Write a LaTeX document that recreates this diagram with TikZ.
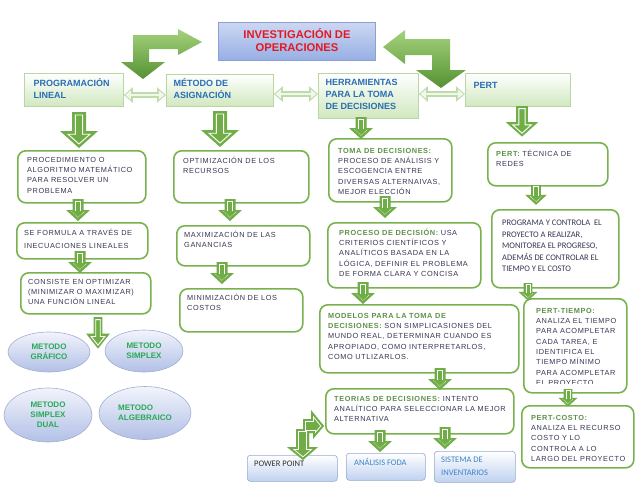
\documentclass[tikz,border=0pt]{standalone}
\usepackage{fontspec}
\setmainfont{Liberation Sans}
\newfontfamily\lsans[LetterSpace=8]{Liberation Sans}
\newfontfamily\carl{Carlito}
\usetikzlibrary{arrows.meta,shapes.geometric}

\definecolor{agreen}{RGB}{112,173,71}
\definecolor{bgreen}{RGB}{120,178,78}
\definecolor{hdrblue}{RGB}{40,110,180}
\definecolor{ttlred}{RGB}{225,25,35}
\definecolor{bodyc}{RGB}{55,55,85}
\definecolor{tgreen}{RGB}{95,145,75}
\definecolor{elltxt}{RGB}{40,170,85}
\definecolor{lblue}{RGB}{60,130,200}
\definecolor{hborder}{RGB}{185,215,165}
\definecolor{hfill}{RGB}{208,232,190}
\definecolor{tborder}{RGB}{140,160,210}
\definecolor{ttop}{RGB}{205,215,243}
\definecolor{tbot}{RGB}{150,175,228}
\definecolor{ellb}{RGB}{160,175,210}
\definecolor{ell1}{RGB}{242,244,252}
\definecolor{ell2}{RGB}{178,192,230}
\definecolor{bbord}{RGB}{150,170,205}
\definecolor{bfill}{RGB}{192,210,240}
\definecolor{bent1}{RGB}{165,210,125}
\definecolor{bent2}{RGB}{85,145,50}
\definecolor{dblo}{RGB}{190,220,170}
\definecolor{dbli}{RGB}{240,248,235}
\definecolor{ppgray}{RGB}{50,50,50}

\newcommand\bodyf{\lsans\fontsize{7.35}{10.3}\selectfont}
\newcommand\hdrf{\fontsize{9}{12.2}\selectfont\bfseries}
\newcommand\carlf{\carl\fontsize{8.5}{11.5}\selectfont}
\newcommand\carlb{\carl\fontsize{8.5}{13}\selectfont}
\newcommand\tg[1]{\textcolor{tgreen}{\bfseries #1}}

% #1 style, #2 name, #3 x1, #4 y1, #5 x2, #6 y2, #7 tx, #8 ty, #9 text
\newcommand\tbox[9]{%
  \pgfmathsetmacro\bw{#5-#3}\pgfmathsetmacro\bh{#6-#4}%
  \node[#1, anchor=north west, minimum width=\bw pt, minimum height=\bh pt, inner sep=0pt] (#2) at (#3,#4) {};
  \node[#1txt, anchor=north west, inner sep=0pt, align=left] (#2-t) at (#7,#8) {\strut#9};}

\newcommand\dblarrow[3]{%
  \draw[dbl] (#1.east |- 0,#3) -- (#2.west |- 0,#3);
  \draw[dblin] (#1.east |- 0,#3) -- (#2.west |- 0,#3);}

\tikzset{
  gbox/.style={draw=bgreen, line width=1.6pt, rounded corners=8pt, fill=white},
  gboxtxt/.style={font=\bodyf, text=bodyc},
  cbox/.style={gbox},
  cboxtxt/.style={font=\carlf, text=bodyc},
  hbox/.style={draw=hborder, line width=0.8pt, top color=white, bottom color=hfill},
  hboxtxt/.style={font=\hdrf, text=hdrblue},
  bbox/.style={draw=bbord, line width=0.6pt, rounded corners=3pt, top color=white, bottom color=bfill},
  bboxtxt/.style={font=\carlb, text=lblue},
  ell/.style={ellipse, draw=ellb, line width=0.6pt, top color=ell1, bottom color=ell2,
    font=\bfseries\fontsize{8}{10}\selectfont, text=elltxt, align=center, inner sep=0pt},
  dbl/.style={line width=6pt, draw=dblo,
    {Triangle[width=15pt,length=9pt]}-{Triangle[width=15pt,length=9pt]}},
  dblin/.style={line width=2.6pt, draw=dbli, shorten <=1.6pt, shorten >=1.6pt,
    {Triangle[width=9pt,length=5.5pt]}-{Triangle[width=9pt,length=5.5pt]}},
  bigdown/.pic={
    \fill[agreen] (-7,0) -- (7,0) -- (7,19) -- (19,19) -- (0,36) -- (-19,19) -- (-7,19) -- cycle;
    \draw[white, line width=0.9pt] (-3.6,3) -- (3.6,3) -- (3.6,22.2) -- (11,22.2) -- (0,32) -- (-11,22.2) -- (-3.6,22.2) -- cycle;
  },
  smalldown/.pic={
    \fill[agreen] (-5.5,0) -- (5.5,0) -- (5.5,11) -- (12,11) -- (0,22) -- (-12,11) -- (-5.5,11) -- cycle;
    \draw[white, line width=0.6pt] (-2.5,12) -- (-2.5,1.8) -- (2.5,1.8) -- (2.5,12);
    \draw[white, line width=0.6pt, densely dotted] (-6.5,12.5) -- (0,18.5) -- (6.5,12.5);
  },
}

\begin{document}
\begin{tikzpicture}[x=1pt,y=-1pt]
\useasboundingbox (0,0) rectangle (638,493);
\fill[white] (0,0) rectangle (638,493);

% title
\node[draw=tborder, line width=0.6pt, top color=ttop, bottom color=tbot, anchor=north west,
  minimum width=157pt, minimum height=38pt, inner sep=0pt] (io) at (218,22) {};
\node[font=\fontsize{11.2}{13.5}\selectfont\bfseries, text=ttlred, align=center, inner sep=0pt]
  (io-t) at (297,40) {INVESTIGACIÓN DE\\OPERACIONES};

% header row
\tbox{hbox}{pl}{24}{73}{123}{106}{33.5}{77.8}{PROGRAMACIÓN\\LINEAL}
\tbox{hbox}{ma}{166}{74}{273}{106}{173.5}{77.8}{MÉTODO DE\\ASIGNACIÓN}
\tbox{hbox}{he}{318}{73}{418}{118}{325.5}{76.8}{HERRAMIENTAS\\PARA LA TOMA\\DE DECISIONES}
\tbox{hbox}{pe}{465}{73}{570}{106}{473.5}{79.8}{PERT}

\dblarrow{pl}{ma}{95}
\dblarrow{ma}{he}{94}
\dblarrow{he}{pe}{94}

% left column
\tbox{gbox}{proc}{17}{150}{145}{202}{27}{154.8}{PROCEDIMIENTO O\\ALGORITMO MATEMÁTICO\\PARA RESOLVER UN\\PROBLEMA}
\tbox{gbox}{sef}{16}{222}{147}{258}{24}{227.8}{SE FORMULA A TRAVÉS DE\\[2.7pt]INECUACIONES LINEALES}
\tbox{gbox}{cons}{20}{272}{150}{313}{28}{276.8}{CONSISTE EN OPTIMIZAR\\(MINIMIZAR O MAXIMIZAR)\\UNA FUNCIÓN LINEAL}

% ellipses
\node[ell, minimum width=82pt, minimum height=40pt] (eg) at (49,352) {METODO\\GRÁFICO};
\node[ell, minimum width=78pt, minimum height=42pt] (es) at (144,351) {METODO\\SIMPLEX};
\node[ell, minimum width=88pt, minimum height=54pt] (ed) at (48,415) {METODO\\SIMPLEX\\DUAL};
\node[ell, minimum width=92pt, minimum height=53pt, align=left] (ea) at (145,413) {METODO\\ALGEBRAICO};

% middle column
\tbox{gbox}{opt}{173}{150}{308}{202}{183}{155.8}{OPTIMIZACIÓN DE LOS\\RECURSOS}
\tbox{gbox}{max}{176}{225}{309}{265}{184}{229.8}{MAXIMIZACIÓN DE LAS\\GANANCIAS}
\tbox{gbox}{min}{179}{288}{302}{331}{187}{292.8}{MINIMIZACIÓN DE LOS\\COSTOS}

% herramientas column
\tbox{gbox}{toma}{328}{138}{451}{201}{338}{145.8}{\tg{TOMA DE DECISIONES:}\\PROCESO DE ANÁLISIS Y\\ESCOGENCIA ENTRE\\DIVERSAS ALTERNAIVAS,\\MEJOR ELECCIÓN}
\tbox{gbox}{proce}{327}{222}{480}{287}{339}{227.8}{\tg{PROCESO DE DECISIÓN:} USA\\CRITERIOS CIENTÍFICOS Y\\ANALÍTICOS BASADA EN LA\\LÓGICA, DEFINIR EL PROBLEMA\\DE FORMA CLARA Y CONCISA}
\tbox{gbox}{mod}{319}{304}{518}{372}{328}{310.8}{\tg{MODELOS PARA LA TOMA DE}\\\tg{DECISIONES:} SON SIMPLICASIONES DEL\\MUNDO REAL, DETERMINAR CUANDO ES\\APROPIADO, COMO INTERPRETARLOS,\\COMO UTLIZARLOS.}
\tbox{gbox}{teo}{325}{388}{513}{433}{334}{393.8}{\tg{TEORIAS DE DECISIONES:} INTENTO\\ANALÍTICO PARA SELECCIONAR LA MEJOR\\ALTERNATIVA}

% bottom boxes
\tbox{bbox}{pp}{247}{455}{337}{481}{254}{457.5}{\textcolor{ppgray}{POWER POINT}}
\tbox{bbox}{foda}{346}{453}{425}{480}{354}{456.5}{ANÁLISIS FODA}
\tbox{bbox}{inv}{434}{451}{515}{482}{441}{453.5}{SISTEMA DE\\INVENTARIOS}

% PERT column
\tbox{gbox}{ptec}{487}{142}{607}{185}{496}{148.8}{\tg{PERT:} TÉCNICA DE\\REDES}
\tbox{cbox}{prog}{491}{209}{618}{287}{502}{217.4}{PROGRAMA Y CONTROLA~ EL\\PROYECTO A REALIZAR,\\MONITOREA EL PROGRESO,\\ADEMÁS DE CONTROLAR EL\\TIEMPO Y EL COSTO}
\node[gbox, anchor=north west, minimum width=103pt, minimum height=94pt, inner sep=0pt] (pt) at (523,298) {};
\begin{scope}
  \clip (523,298) rectangle (626,383.5);
  \node[gboxtxt, anchor=north west, inner sep=0pt, align=left] (pt-t) at (536,305.8)
    {\strut\tg{PERT-TIEMPO:}\\ANALIZA EL TIEMPO\\PARA ACOMPLETAR\\CADA TAREA, E\\IDENTIFICA EL\\TIEMPO MÍNIMO\\PARA ACOMPLETAR\\EL PROYECTO};
\end{scope}
\tbox{gbox}{pc}{521}{405}{633}{467}{531}{412.8}{\tg{PERT-COSTO:}\\ANALIZA EL RECURSO\\COSTO Y LO\\CONTROLA A LO\\LARGO DEL PROYECTO}

% bent arrows at the top
\shade[top color=bent1, bottom color=bent2]
  (133,35) -- (178,35) -- (178,29) -- (202,42) -- (178,55) -- (178,49) -- (149,49) -- (149,62)
  -- (165,62) -- (143,79) -- (121,62) -- (133,62) -- cycle;
\shade[top color=bent1, bottom color=bent2]
  (383,47) -- (405,30) -- (405,39) -- (450,39) -- (450,70) -- (466,70) -- (441,88) -- (416,70)
  -- (432,70) -- (432,55) -- (405,55) -- (405,64) -- cycle;

% big hollow arrows
\pic at (79,112) {bigdown};
\pic at (220,111) {bigdown};
\pic[scale=0.85] at (522,106) {bigdown};
\pic[xscale=0.62, yscale=0.88] at (98,317) {bigdown};

% small chain arrows
\pic at (78,199) {smalldown};
\pic at (80,251) {smalldown};
\pic at (230,199) {smalldown};
\pic at (222,262) {smalldown};
\pic at (361,117) {smalldown};
\pic at (385,196) {smalldown};
\pic at (363,282) {smalldown};
\pic at (440,368) {smalldown};
\pic at (380,430) {smalldown};
\pic at (445,427) {smalldown};
\pic[scale=0.9] at (536,185) {smalldown};
\pic[scale=0.8] at (528,283) {smalldown};
\pic[scale=0.8] at (568,389) {smalldown};

% stepped arrow above POWER POINT
\def\steppath{(311,410) -- (324,426) -- (313,439) -- (313,433) -- (309,433) -- (309,447) -- (318,447)
  -- (303,460) -- (287,447) -- (296,447) -- (296,429) -- (303,429) -- (303,419) -- (311,419) -- cycle}
\begin{scope}
  \clip \steppath;
  \fill[agreen] \steppath;
  \draw[white, line width=5.6pt] \steppath;
  \draw[agreen, line width=3.8pt] \steppath;
\end{scope}
\end{tikzpicture}
\end{document}
